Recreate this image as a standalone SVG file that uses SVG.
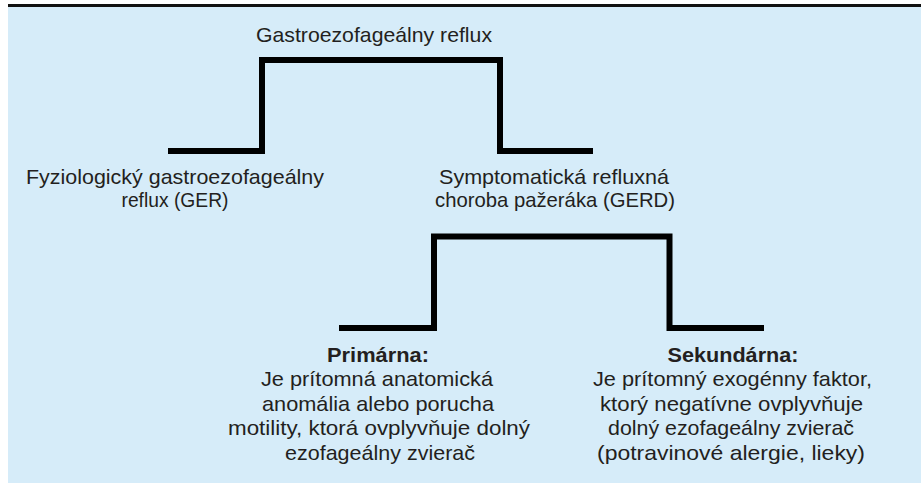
<svg xmlns="http://www.w3.org/2000/svg" width="921" height="486" viewBox="0 0 921 486">
<style>
.t{font-family:"Liberation Sans",Arial,sans-serif;font-size:21px;fill:#231f20;text-anchor:middle}
.b{font-weight:bold}
.c{fill:none;stroke:#000;stroke-width:6;stroke-linejoin:miter;stroke-linecap:butt}
</style>
<rect x="0" y="0" width="921" height="486" fill="#ffffff"/>
<rect x="8" y="7" width="913" height="476" fill="#d6ecf9"/>
<rect x="8" y="4" width="913" height="3" fill="#111"/>
<g id="connectors">
<path class="c" d="M168,151 H262 V60 H500 V151 H593"/>
<path class="c" d="M339,328 H434 V236.5 H669.5 V328 H764"/>
</g>
<g id="root">
<text class="t" x="374" y="42" textLength="236" lengthAdjust="spacingAndGlyphs">Gastroezofageálny reflux</text>
</g>
<g id="ger">
<text class="t" x="175" y="184" textLength="298" lengthAdjust="spacingAndGlyphs">Fyziologický gastroezofageálny</text>
<text class="t" x="175" y="207" textLength="107" lengthAdjust="spacingAndGlyphs">reflux (GER)</text>
</g>
<g id="gerd">
<text class="t" x="554" y="184" textLength="230" lengthAdjust="spacingAndGlyphs">Symptomatická refluxná</text>
<text class="t" x="555" y="207" textLength="240" lengthAdjust="spacingAndGlyphs">choroba pažeráka (GERD)</text>
</g>
<g id="primarna">
<text class="t b" x="378" y="362" textLength="102" lengthAdjust="spacingAndGlyphs">Primárna:</text>
<text class="t" x="377" y="386" textLength="232" lengthAdjust="spacingAndGlyphs">Je prítomná anatomická</text>
<text class="t" x="378" y="411" textLength="232" lengthAdjust="spacingAndGlyphs">anomália alebo porucha</text>
<text class="t" x="379" y="435" textLength="302" lengthAdjust="spacingAndGlyphs">motility, ktorá ovplyvňuje dolný</text>
<text class="t" x="380" y="460" textLength="190" lengthAdjust="spacingAndGlyphs">ezofageálny zvierač</text>
</g>
<g id="sekundarna">
<text class="t b" x="733" y="362" textLength="131" lengthAdjust="spacingAndGlyphs">Sekundárna:</text>
<text class="t" x="732.5" y="386" textLength="279" lengthAdjust="spacingAndGlyphs">Je prítomný exogénny faktor,</text>
<text class="t" x="731.5" y="411" textLength="263" lengthAdjust="spacingAndGlyphs">ktorý negatívne ovplyvňuje</text>
<text class="t" x="731" y="435" textLength="246" lengthAdjust="spacingAndGlyphs">dolný ezofageálny zvierač</text>
<text class="t" x="731" y="460" textLength="268" lengthAdjust="spacingAndGlyphs">(potravinové alergie, lieky)</text>
</g>
</svg>
